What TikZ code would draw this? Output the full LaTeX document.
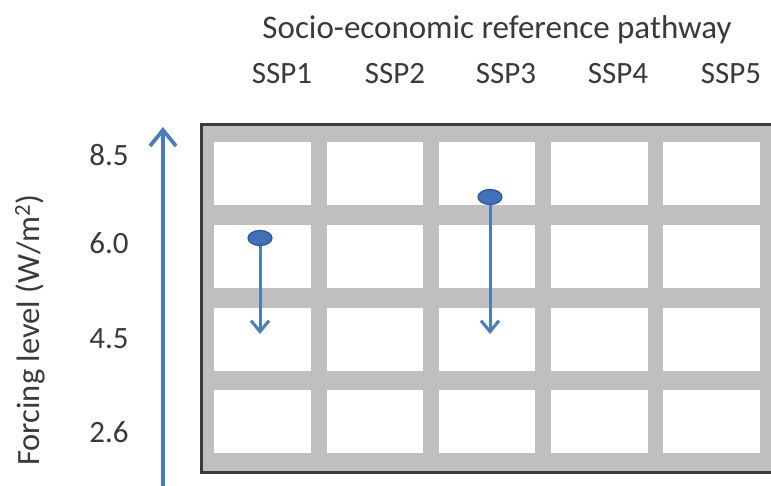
\documentclass[tikz,border=0pt]{standalone}
\usepackage{fontspec}
\setmainfont{Carlito}
\usetikzlibrary{arrows.meta,shapes.geometric}
\definecolor{txt}{HTML}{3A3A3A}
\definecolor{band}{HTML}{BFBFBF}
\definecolor{framec}{HTML}{3C3C3C}
\definecolor{ablue}{HTML}{4A7EBB}
\definecolor{dfill}{HTML}{3F72B8}
\definecolor{dblue}{HTML}{2B5794}
\begin{document}
\begin{tikzpicture}[x=1pt,y=-1pt,
  lbl/.style={text=txt,font=\fontsize{31}{36}\selectfont,inner sep=0pt,anchor=base},
  cell/.style={fill=white,draw=none,inner sep=0pt,minimum width=96.5pt,minimum height=63pt,anchor=north west},
  dotnode/.style={ellipse,fill=dfill,draw=dblue,line width=1.2pt,inner sep=0pt,minimum width=24pt,minimum height=15pt},
  smallarrow/.style={ablue,line width=3pt,-{Straight Barb[length=11pt,width=18pt]}},
  axisarrow/.style={ablue,line width=3.8pt,-{Straight Barb[length=16pt,width=26pt]}}
]
\clip (0,0) rectangle (771,485);
\fill[white] (0,0) rectangle (771,485);
% grid frame
\fill[band] (201,124) rectangle (790,472);
\draw[framec,line width=3pt] (790,124) -- (201,124) -- (201,472) -- (790,472);
% cells
\foreach \c/\x in {1/214,2/326.3,3/438.6,4/550.9,5/663.2}{
  \foreach \r/\y in {1/142,2/224.7,3/307.4,4/390.1}{
    \node[cell] (c\r\c) at (\x,\y) {};
  }
}
% texts
\node[lbl,font=\fontsize{33}{38}\selectfont] (title) at (497,38) {Socio-economic reference pathway};
\node[lbl] (s1) at (282,83) {SSP1};
\node[lbl] (s2) at (395,83) {SSP2};
\node[lbl] (s3) at (506,83) {SSP3};
\node[lbl] (s4) at (618,83) {SSP4};
\node[lbl] (s5) at (731,83) {SSP5};
\node[lbl] (f1) at (109,165) {8.5};
\node[lbl] (f2) at (109,253) {6.0};
\node[lbl] (f3) at (109,348) {4.5};
\node[lbl] (f4) at (109,442) {2.6};
\node[lbl,rotate=90,font=\fontsize{32.5}{37}\selectfont] (ylab) at (39,330) {Forcing level (W/m\textsuperscript{2})};
% axis arrow
\coordinate (ab) at (163,492);
\coordinate (at) at (163,127);
\draw[axisarrow] (ab) -- (at);
% pathway arrows
\coordinate (t1) at (260,334);
\coordinate (t3) at (490,334);
\node[dotnode] (d1) at (260,238) {};
\node[dotnode] (d3) at (490,197) {};
\draw[smallarrow] (d1.south) -- (t1);
\draw[smallarrow] (d3.south) -- (t3);
\end{tikzpicture}
\end{document}
